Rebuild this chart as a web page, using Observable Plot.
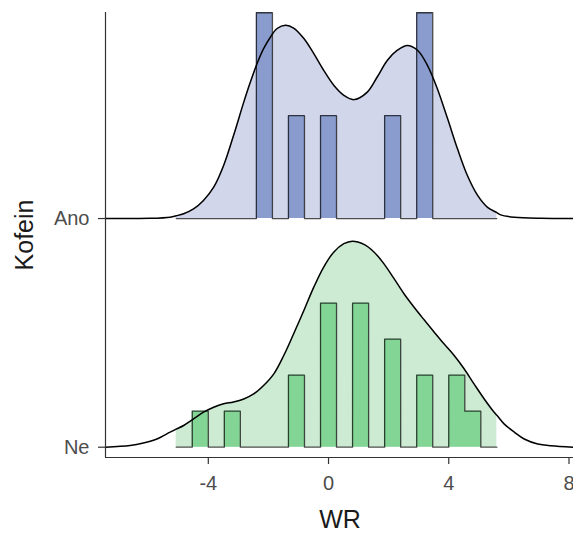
<!DOCTYPE html>
<html><head><meta charset="utf-8">
<script src="https://cdn.jsdelivr.net/npm/d3@7"></script>
<script src="https://cdn.jsdelivr.net/npm/@observablehq/plot@0.6"></script>
<style>body{margin:0;background:#fff;} svg{display:block;}</style>
</head><body><div id="chart"></div>
<script>
// ---- data ----
const groups = ["Ne", "Ano"];               // ridge order bottom -> top
const xTicks = [-4, 0, 4, 8];
const xTitle = "WR";
const yTitle = "Kofein";

// histogram bins (centres) and counts per group
const binCenters = [-4.8, -4.267, -3.733, -3.2, -2.667, -2.133, -1.6, -1.067, -0.533, 0,
                    0.533, 1.067, 1.6, 2.133, 2.667, 3.2, 3.733, 4.267, 4.8, 5.333];
const binWidth = 0.5333;
const neCounts  = [0, 1, 0, 1, 0, 0, 0, 2, 0, 4, 0, 4, 0, 3, 0, 2, 0, 2, 1, 0];
const anoCounts = [0, 0, 0, 0, 0, 2, 0, 1, 0, 1, 0, 0, 0, 1, 0, 2, 0, 0, 0, 0];

// density ridges: x and height (in units of ridge spacing)
const anoDensX = [-7.42, -5.93, -5.27, -5.07, -4.82, -4.49, -4.16, -3.82, -3.49, -3.16, -2.82, -2.6, -2.38, -2.16,
                  -1.93, -1.71, -1.43, -1.16, -0.82, -0.49, -0.16, 0.18, 0.51, 0.84, 1.29, 1.62, 1.96,
                  2.29, 2.62, 2.96, 3.29, 3.62, 3.96, 4.29, 4.62, 4.96, 5.29, 5.6, 5.73, 6.18, 7.07, 8.15];
const anoDensH = [0, 0.001, 0.006, 0.012, 0.021, 0.042, 0.079, 0.137, 0.232, 0.363, 0.509, 0.597, 0.677, 0.743,
                  0.794, 0.831, 0.845, 0.833, 0.787, 0.721, 0.648, 0.582, 0.539, 0.520, 0.553, 0.619, 0.692,
                  0.736, 0.757, 0.736, 0.670, 0.568, 0.437, 0.305, 0.188, 0.101, 0.049, 0.026, 0.016, 0.006, 0.001, 0];
const neDensX = [-7.42, -6.6, -6.16, -5.71, -5.27, -5.07, -4.82, -4.49, -4.16, -3.82, -3.49, -3.16, -2.82, -2.49,
                 -2.16, -1.82, -1.49, -1.16, -0.82, -0.49, -0.16, 0.18, 0.51, 0.79, 1.18, 1.51, 1.84,
                 2.18, 2.51, 2.84, 3.18, 3.51, 3.84, 4.18, 4.51, 4.84, 5.18, 5.51, 5.6, 5.84, 6.18,
                 6.51, 6.96, 7.4, 8.15];
const neDensH = [0, 0.007, 0.018, 0.036, 0.066, 0.079, 0.095, 0.124, 0.153, 0.175, 0.190, 0.198, 0.211, 0.233,
                 0.270, 0.321, 0.401, 0.496, 0.598, 0.700, 0.788, 0.854, 0.890, 0.901, 0.887, 0.854, 0.803,
                 0.737, 0.671, 0.613, 0.557, 0.504, 0.452, 0.401, 0.343, 0.277, 0.211, 0.153, 0.140, 0.102, 0.066,
                 0.036, 0.014, 0.006, 0];

// ---- styling ----
const lightFill = {Ne: "#CDEBD3", Ano: "#D2D6EA"};
const barFill   = {Ne: "#83D595", Ano: "#8A9CCE"};
const ridgeScale = 0.9;
const xDomain = [-7.42, 8.15];
const yDomain = [-0.045, 1.901];

// ---- build ----
const series = {
  Ne:  {base: 0, counts: neCounts,  dx: neDensX,  dh: neDensH},
  Ano: {base: 1, counts: anoCounts, dx: anoDensX, dh: anoDensH}
};
const maxRel = d3.max(groups, g => d3.max(series[g].counts) / d3.sum(series[g].counts));
const histK = ridgeScale / maxRel;
const lo = binCenters[0] - binWidth / 2, hi = binCenters[binCenters.length - 1] + binWidth / 2;

const marks = [];
for (const g of ["Ano", "Ne"]) {
  const s = series[g];
  const n = d3.sum(s.counts);
  const dens = s.dx.map((x, i) => ({x, y: s.base + s.dh[i]}));
  const densFill = dens.filter(d => d.x >= lo - 0.02 && d.x <= hi + 0.02);
  const steps = [];
  binCenters.forEach((c, i) => {
    const h = s.base + s.counts[i] / n * histK;
    steps.push({x: c - binWidth / 2, y: h}, {x: c + binWidth / 2, y: h});
  });
  marks.push(
    Plot.areaY(densFill, {x: "x", y1: s.base, y2: "y", fill: lightFill[g], curve: "catmull-rom"}),
    Plot.areaY(steps, {x: "x", y1: s.base, y2: "y", fill: barFill[g], curve: "linear"}),
    Plot.line(steps, {x: "x", y: "y", stroke: "#000", strokeOpacity: 0.7, strokeWidth: 1.3, curve: "linear"}),
    Plot.line(dens, {x: "x", y: "y", stroke: "#000", strokeWidth: 1.5, curve: "catmull-rom"})
  );
}

const chart = Plot.plot({
  width: 573,
  height: 533,
  marginLeft: 105,
  marginRight: 0,
  marginTop: 12,
  marginBottom: 76,
  style: {fontFamily: "'Liberation Sans', Arial, sans-serif", background: "#fff"},
  x: {domain: xDomain},
  y: {domain: yDomain},
  marks: [
    ...marks,
    Plot.ruleX([xDomain[0]], {y1: yDomain[0], y2: yDomain[1], stroke: "#333", strokeWidth: 1.2}),
    Plot.ruleY([yDomain[0]], {x1: xDomain[0], x2: xDomain[1], stroke: "#333", strokeWidth: 1.2}),
    Plot.axisX({ticks: xTicks, tickFormat: d => String(d), tickSize: 7, tickPadding: 11, fontSize: 20,
                stroke: "#333", strokeWidth: 1.2, fill: "#4d4d4d", label: null}),
    Plot.axisY({ticks: [0, 1], tickFormat: i => groups[i], tickSize: 7, tickPadding: 9, fontSize: 20,
                stroke: "#333", strokeWidth: 1.2, fill: "#4d4d4d", label: null})
  ]
});

const svg = d3.select(chart);
svg.append("text").attr("x", 340).attr("y", 521).attr("text-anchor", "middle")
  .attr("dominant-baseline", "middle").attr("font-size", 25).attr("fill", "#1a1a1a").text(xTitle);
svg.append("text").attr("transform", "translate(26,235) rotate(-90)").attr("text-anchor", "middle")
  .attr("dominant-baseline", "middle").attr("font-size", 25).attr("fill", "#1a1a1a").text(yTitle);

document.getElementById("chart").appendChild(chart);
</script>
</body></html>
